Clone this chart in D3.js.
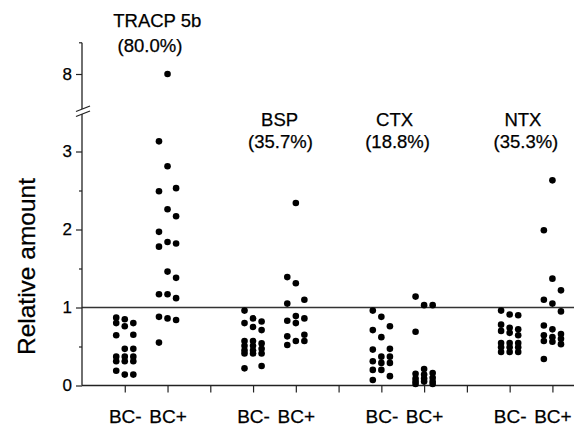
<!DOCTYPE html>
<html><head><meta charset="utf-8">
<script src="https://cdn.jsdelivr.net/npm/d3@7"></script>
<style>
body{margin:0;background:#fff}
svg{display:block}
text{font-family:"Liberation Sans",Arial,Helvetica,sans-serif;fill:#000;stroke:#000;stroke-width:0.25px}
</style>
</head><body><svg id="c" width="574" height="426"></svg>
<script>
// ---- data ----
const markers = ["TRACP 5b", "BSP", "CTX", "NTX"];
const percents = ["(80.0%)", "(35.7%)", "(18.8%)", "(35.3%)"];
const conditions = ["BC-", "BC+"];
const yTicksLow = [0, 1, 2, 3];
const yMinorLow = [0.5, 1.5, 2.5];
const yTicksHigh = [8];
const referenceValue = 1;

const tracpNeg = [0.87,0.85,0.80,0.80,0.76,0.65,0.645,0.47,0.47,0.37,0.37,0.37,0.31,0.31,0.31,0.19,0.14,0.14];
const tracpPos = [8.0,3.13,2.81,2.53,2.49,2.26,2.17,1.97,1.84,1.82,1.78,1.46,1.38,1.17,1.17,1.12,0.88,0.86,0.84,0.55];
const bspNeg   = [0.96,0.86,0.82,0.80,0.75,0.71,0.57,0.57,0.54,0.51,0.51,0.47,0.45,0.45,0.41,0.41,0.41,0.25,0.22];
const bspPos   = [2.34,1.39,1.31,1.10,1.05,0.89,0.86,0.83,0.80,0.65,0.63,0.57,0.57,0.52];
const ctxNeg   = [0.96,0.88,0.76,0.71,0.62,0.47,0.46,0.37,0.37,0.31,0.29,0.29,0.20,0.20,0.12,0.07];
const ctxPos   = [1.14,1.03,1.03,0.69,0.21,0.16,0.15,0.14,0.10,0.09,0.09,0.05,0.05,0.05,0.02,0.02];
const ntxNeg   = [0.96,0.91,0.90,0.78,0.74,0.72,0.70,0.675,0.645,0.545,0.545,0.545,0.49,0.49,0.49,0.43,0.43,0.43];
const ntxPos   = [2.63,1.99,1.37,1.22,1.10,1.05,0.95,0.77,0.72,0.66,0.645,0.62,0.60,0.57,0.56,0.53,0.34];

const series = [
  [tracpNeg, tracpPos],
  [bspNeg, bspPos],
  [ctxNeg, ctxPos],
  [ntxNeg, ntxPos]
];

// ---- layout ----
const svg = d3.select("#c");
const x = d3.scaleLinear().domain([0, 11.5]).range([82, 573.8]);
const yLow = d3.scaleLinear().domain([0, 3]).range([385.5, 151.5]);
const yHigh = d3.scaleLinear().domain([7.5, 8.4]).range([113, 42.8]);
const yPos = v => v > 5 ? yHigh(v) : yLow(v);
const colStep = 0.2;   // horizontal offset between dot columns (axis units)
const axisColor = "#222";

const catPos = (g, c) => g * 3 + c + 1;

const titleX = [1.76, 4.62, 7.31, 10.31];
const parenX = [1.59, 4.64, 7.38, 10.38];
const titleY = [27, 125.7, 125.7, 125.7];
const parenY = [52, 148.3, 148.3, 148.3];

// ---- reference line ----
svg.append("line")
  .attr("x1", x(0)).attr("x2", 574)
  .attr("y1", yLow(referenceValue)).attr("y2", yLow(referenceValue))
  .attr("stroke", "#333").attr("stroke-width", 1.6);

// ---- x axis ----
const xLabels = d3.range(1, 12).map(i => ({i, lab: (i % 3 === 0) ? "" : conditions[(i - 1) % 3]}));
const xAxis = d3.axisBottom(x)
  .tickValues(xLabels.map(d => d.i))
  .tickSize(7).tickPadding(17)
  .tickFormat(i => xLabels.find(d => d.i === i).lab);
const gx = svg.append("g").attr("transform", `translate(0,${yLow(0)})`).call(xAxis);
gx.select(".domain").remove();
gx.append("line").attr("x1", x(0)).attr("x2", 574).attr("y1", 0).attr("y2", 0)
  .attr("stroke", axisColor).attr("stroke-width", 1.3);
gx.selectAll(".tick line").attr("stroke", axisColor).attr("stroke-width", 1.2);
gx.selectAll(".tick text").attr("font-size", 19).attr("font-family", '"Liberation Sans",Arial,sans-serif').attr("fill", "#000");

// ---- y axis (lower segment) ----
const gyL = svg.append("g").attr("transform", `translate(${x(0)},0)`)
  .call(d3.axisLeft(yLow).tickValues(yTicksLow).tickSize(6).tickPadding(4).tickFormat(d3.format("d")));
gyL.select(".domain").remove();
const gyM = svg.append("g").attr("transform", `translate(${x(0)},0)`)
  .call(d3.axisLeft(yLow).tickValues(yMinorLow).tickSize(3).tickFormat(""));
gyM.select(".domain").remove();

// ---- y axis (upper segment) ----
const gyH = svg.append("g").attr("transform", `translate(${x(0)},0)`)
  .call(d3.axisLeft(yHigh).tickValues(yTicksHigh).tickSize(6).tickPadding(4).tickFormat(d3.format("d")));
gyH.select(".domain").remove();

[gyL, gyM, gyH].forEach(g => {
  g.selectAll(".tick line").attr("stroke", axisColor).attr("stroke-width", 1.2);
  g.selectAll(".tick text").attr("font-size", 17).attr("font-family", '"Liberation Sans",Arial,sans-serif').attr("fill", "#000");
});

// axis spines with break
const brkTop = 109, brkBot = 114;
svg.append("line").attr("x1", x(0)).attr("x2", x(0)).attr("y1", yLow(0)).attr("y2", brkBot)
  .attr("stroke", axisColor).attr("stroke-width", 1.3);
svg.append("line").attr("x1", x(0)).attr("x2", x(0)).attr("y1", brkTop).attr("y2", yHigh(8.4))
  .attr("stroke", axisColor).attr("stroke-width", 1.3);
svg.append("line").attr("x1", x(0) - 3).attr("x2", x(0)).attr("y1", yHigh(8.4)).attr("y2", yHigh(8.4))
  .attr("stroke", axisColor).attr("stroke-width", 1.2);
[brkTop, brkBot].forEach(yb => {
  svg.append("line")
    .attr("x1", x(0) - 6).attr("y1", yb + 2.5)
    .attr("x2", x(0) + 8).attr("y2", yb - 3)
    .attr("stroke", axisColor).attr("stroke-width", 1.3);
});

// ---- y axis title ----
svg.append("text")
  .attr("transform", `translate(35,${yLow(1.5) - 2}) rotate(-90)`)
  .attr("text-anchor", "middle")
  .attr("font-size", 24.5)
  .text("Relative amount");

// ---- dots ----
function columns(values) {
  const sorted = values.slice().sort((a, b) => b - a);
  const out = [];
  let start = 0;
  if (sorted.length > 1 && sorted[0] - sorted[1] > 0.6) {
    out.push({v: sorted[0], col: 0});
    start = 1;
  }
  sorted.slice(start).forEach((v, k) => out.push({v, col: (k % 3) - 1}));
  return out;
}

series.forEach((pair, g) => {
  pair.forEach((vals, c) => {
    const pts = columns(vals);
    svg.append("g").selectAll("circle").data(pts).join("circle")
      .attr("cx", d => x(catPos(g, c) + d.col * colStep))
      .attr("cy", d => yPos(d.v))
      .attr("r", 3.3)
      .attr("fill", "#000");
  });
});

// ---- group titles ----
markers.forEach((m, g) => {
  svg.append("text").attr("x", x(titleX[g])).attr("y", titleY[g])
    .attr("text-anchor", "middle").attr("font-size", 18.5).text(m);
  svg.append("text").attr("x", x(parenX[g])).attr("y", parenY[g])
    .attr("text-anchor", "middle").attr("font-size", 18.5).text(percents[g]);
});
</script>
</body></html>
